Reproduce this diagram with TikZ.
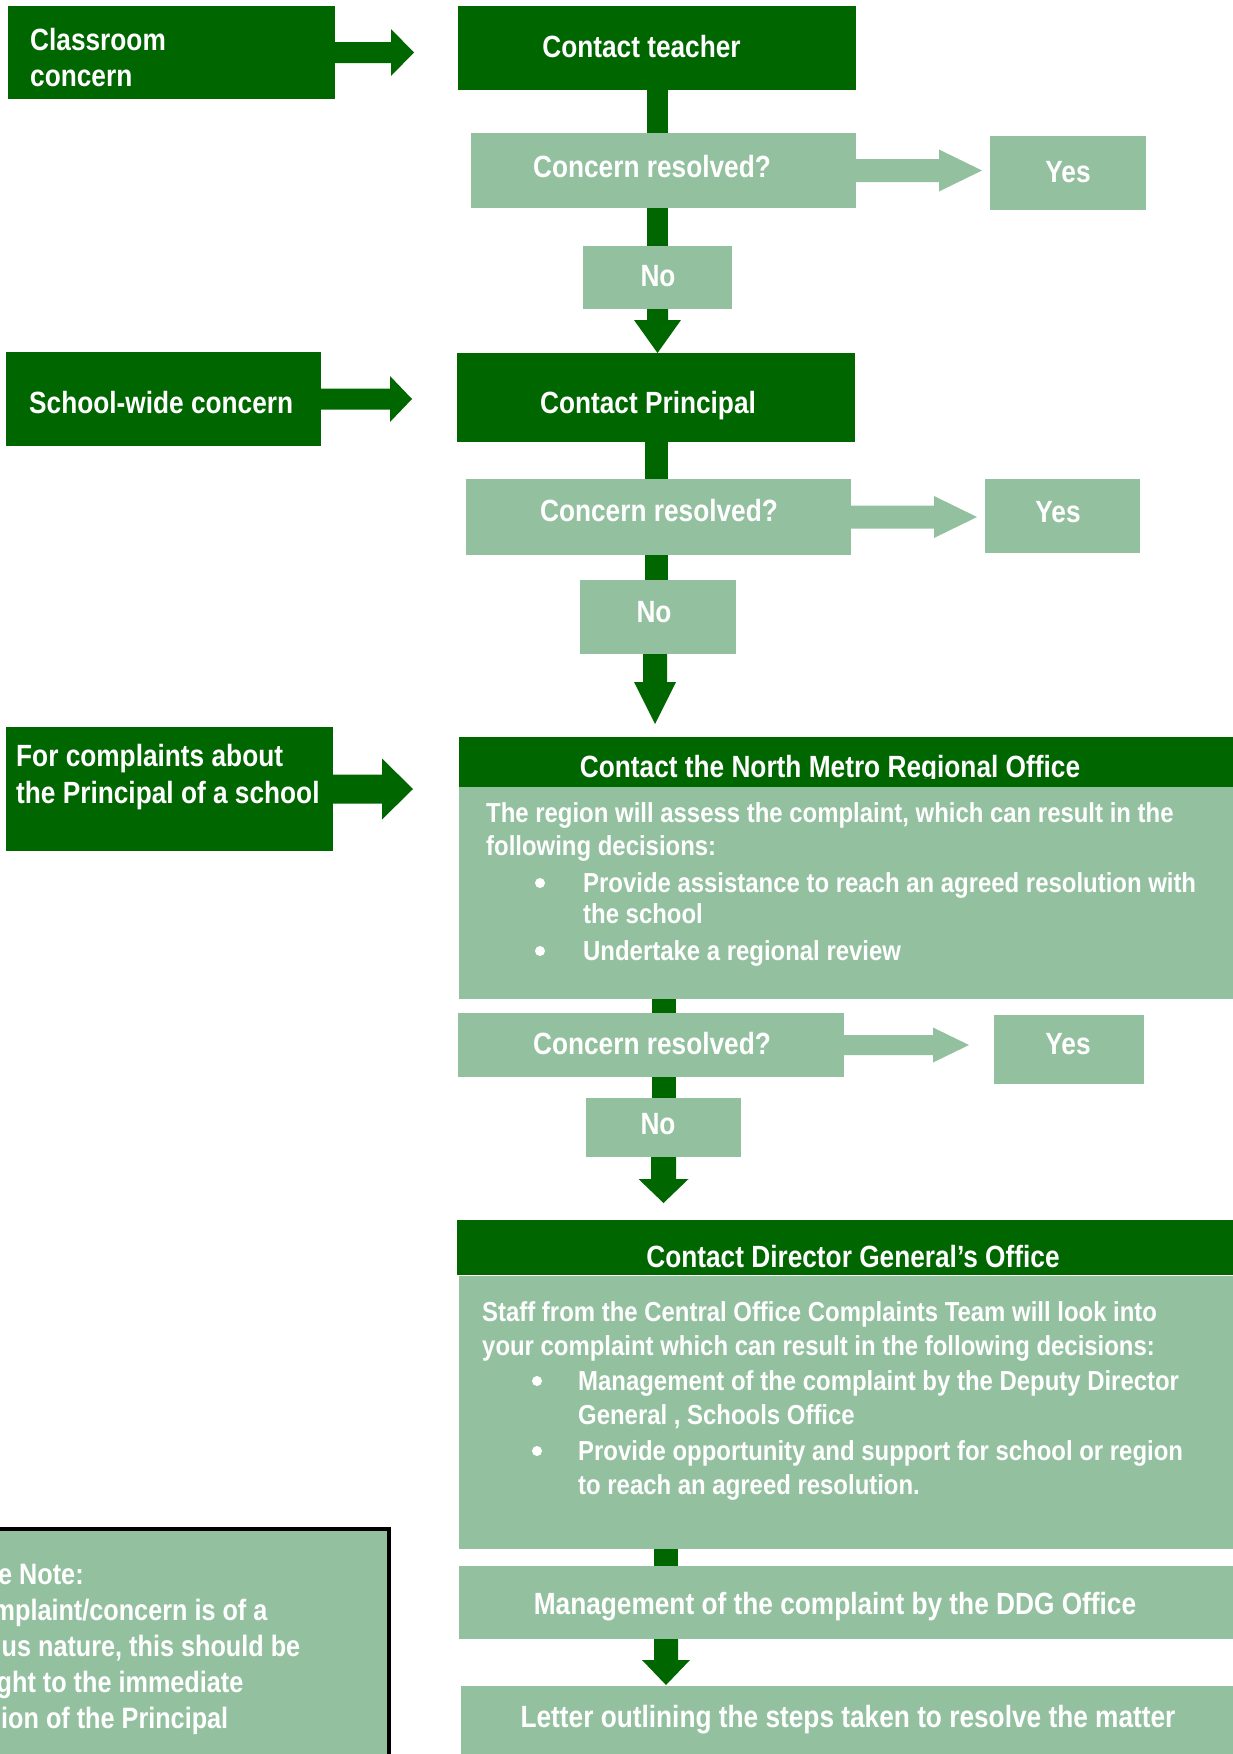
\documentclass[tikz,border=0pt]{standalone}
\usepackage{fontspec}
\setmainfont{Liberation Sans}
\newfontfamily\ttlfont[FakeStretch=0.855]{Liberation Sans}
\newfontfamily\bdyfont[FakeStretch=0.87]{Liberation Sans}
\usetikzlibrary{fit,calc}
\definecolor{dkg}{HTML}{006600}
\definecolor{ltg}{HTML}{93C1A0}
% block arrow to the right: #1 style, #2 start, #3 shaft length, #4 shaft half width, #5 head length, #6 head half width
\newcommand{\blkR}[6]{\fill[#1] #2 ++(0,-#4) -- ++(#3,0) -- ++(0,{#4-#6}) -- ++(#5,#6) -- ++(-#5,#6) -- ++(0,{#4-#6}) -- ++(-#3,0) -- cycle;}
% block arrow downwards
\newcommand{\blkD}[6]{\fill[#1] #2 ++(-#4,0) -- ++(0,#3) -- ++({#4-#6},0) -- ++(#6,#5) -- ++(#6,-#5) -- ++({#4-#6},0) -- ++(0,-#3) -- cycle;}
\tikzset{
  dkbox/.style={fill=dkg, draw=none, inner sep=0pt, outer sep=0pt},
  ltbox/.style={fill=ltg, draw=none, inner sep=0pt, outer sep=0pt},
  notebox/.style={fill=ltg, draw=black, line width=4pt, inner sep=0pt, outer sep=0pt},
  ttl/.style={text=white, inner sep=0pt, anchor=base, font=\ttlfont\bfseries\fontsize{30.7}{36}\selectfont},
  ttlL/.style={ttl, anchor=base west},
  bdy/.style={text=white, inner sep=0pt, anchor=base west, font=\bdyfont\bfseries\fontsize{27.5}{30}\selectfont},
  nte/.style={text=white, inner sep=0pt, anchor=base west, font=\ttlfont\bfseries\fontsize{29.5}{34}\selectfont},
  bul/.style={circle, fill=white, draw=none, minimum size=10pt, inner sep=0pt},
  bar/.style={draw=dkg, line cap=butt},
  dkarrow/.style={fill=dkg},
  ltarrow/.style={fill=ltg}
}
\begin{document}
\begin{tikzpicture}[x=1pt, y=-1pt]
\useasboundingbox (0,0) rectangle (1233,1754);
\clip (0,0) rectangle (1233,1754);
\fill[white] (0,0) rectangle (1233,1754);

% ---------- level 1 ----------
\node[dkbox, fit={(8,6) (335,99)}] (cls) {};
\node[ttlL] (clst1) at (30,50) {Classroom};
\node[ttlL] (clst2) at (30,86) {concern};
\node[dkbox, fit={(458,6) (856,90)}] (teacher) {};
\node[ttl] (teachert) at (641.5,57) {Contact teacher};
\node[ltbox, fit={(471,133) (856,208)}] (cr1) {};
\node[ttl] (cr1t) at (652,177) {Concern resolved?};
\node[ltbox, fit={(990,136) (1146,210)}] (yes1) {};
\node[ttl] (yes1t) at (1068,182) {Yes};
\node[ltbox, fit={(583,246) (732,309)}] (no1) {};
\node[ttl] (no1t) at (658,286) {No};

\blkR{dkarrow}{(cls.east)}{56}{10.5}{23}{23.5}
\draw[bar, line width=21pt] (teacher.south -| no1) -- (cr1.north -| no1);
\draw[bar, line width=21pt] (cr1.south -| no1) -- (no1.north);
\blkR{ltarrow}{(cr1.east)}{83}{11.5}{43}{21}
\blkD{dkarrow}{(no1.south)}{11}{10.5}{33}{23.5}

% ---------- level 2 ----------
\node[dkbox, fit={(6,352) (321,446)}] (school) {};
\node[ttlL] (schoolt) at (29,413) {School-wide concern};
\node[dkbox, fit={(457,353) (855,442)}] (principal) {};
\node[ttl] (principalt) at (648,413) {Contact Principal};
\node[ltbox, fit={(466,479) (851,555)}] (cr2) {};
\node[ttl] (cr2t) at (659,521) {Concern resolved?};
\node[ltbox, fit={(985,479) (1140,553)}] (yes2) {};
\node[ttl] (yes2t) at (1058,522) {Yes};
\node[ltbox, fit={(580,580) (736,654)}] (no2) {};
\node[ttl] (no2t) at (654,622) {No};

\blkR{dkarrow}{(school.east)}{69}{10.5}{22}{23}
\draw[bar, line width=23pt] (principal.south) -- (cr2.north -| principal.south);
\draw[bar, line width=23pt] (cr2.south -| principal.south) -- (no2.north -| principal.south);
\blkR{ltarrow}{(cr2.east)}{83}{11.5}{43}{21}
\blkD{dkarrow}{($(no2.south)+(-3,0)$)}{28}{12}{42}{21}

% ---------- level 3 ----------
\node[dkbox, fit={(6,727) (333,851)}] (pr) {};
\node[ttlL] (prt1) at (16,766) {For complaints about};
\node[ttlL] (prt2) at (16,803) {the Principal of a school};
\blkR{dkarrow}{(pr.east)}{49}{14.5}{31}{30.5}

\node[dkbox, fit={(459,737) (1240,787)}] (nmroh) {};
\begin{scope}
\clip (459,737) rectangle (1240,778.5);
\node[ttl] (nmroht) at (830,777) {Contact the North Metro Regional Office};
\end{scope}
\node[ltbox, fit={(459,787) (1240,999)}] (nmro) {};
\node[bdy] (nm1) at (486,822) {The region will assess the complaint, which can result in the};
\node[bdy] (nm2) at (486,855) {following decisions:};
\node[bul] (nmb1) at (540,883) {};
\node[bdy] (nm3) at (583,892) {Provide assistance to reach an agreed resolution with};
\node[bdy] (nm4) at (583,923) {the school};
\node[bul] (nmb2) at (540,951) {};
\node[bdy] (nm5) at (583,960) {Undertake a regional review};

\node[ltbox, fit={(458,1013) (844,1077)}] (cr3) {};
\node[ttl] (cr3t) at (652,1054) {Concern resolved?};
\node[ltbox, fit={(994,1015) (1144,1084)}] (yes3) {};
\node[ttl] (yes3t) at (1068,1054) {Yes};
\node[ltbox, fit={(586,1098) (741,1157)}] (no3) {};
\node[ttl] (no3t) at (658,1134) {No};

\draw[bar, line width=24pt] (nmro.south -| no3) -- (cr3.north -| no3);
\draw[bar, line width=24pt] (cr3.south -| no3) -- (no3.north);
\blkR{ltarrow}{(cr3.east)}{89}{10}{36}{17.5}
\blkD{dkarrow}{(no3.south)}{22}{12.5}{24}{25}

% ---------- level 4 ----------
\node[dkbox, fit={(457,1220) (1240,1275)}] (dgh) {};
\node[ttl] (dght) at (853,1267) {Contact Director General’s Office};
\node[ltbox, fit={(459,1276) (1240,1549)}] (dg) {};
\node[bdy] (dg1) at (482,1321) {Staff from the Central Office Complaints Team will look into};
\node[bdy] (dg2) at (482,1355) {your complaint which can result in the following decisions:};
\node[bul] (dgb1) at (537,1381) {};
\node[bdy] (dg3) at (578,1390) {Management of the complaint by the Deputy Director};
\node[bdy] (dg4) at (578,1424) {General , Schools Office};
\node[bul] (dgb2) at (537,1451) {};
\node[bdy] (dg5) at (578,1460) {Provide opportunity and support for school or region};
\node[bdy] (dg6) at (578,1494) {to reach an agreed resolution.};

\node[ltbox, fit={(459,1566) (1240,1639)}] (ddg) {};
\node[ttl] (ddgt) at (835,1614) {Management of the complaint by the DDG Office};
\node[ltbox, fit={(461,1686) (1240,1770)}] (letter) {};
\node[ttl] (lettert) at (848,1727) {Letter outlining the steps taken to resolve the matter};

\draw[bar, line width=24pt] ($(dg.south -| no3)+(2.5,0)$) -- ($(ddg.north -| no3)+(2.5,0)$);
\blkD{dkarrow}{($(ddg.south -| no3)+(2.5,0)$)}{21}{12}{25}{24}

% ---------- note ----------
\node[notebox, fit={(-10,1529) (389,1770)}] (note) {};
\node[nte] (n1) at (-2,1584) {e Note:};
\node[nte] (n2) at (-7.5,1620.5) {mplaint/concern is of a};
\node[nte] (n3) at (1.5,1656.5) {us nature, this should be};
\node[nte] (n4) at (-3.5,1692.5) {ght to the immediate};
\node[nte] (n5) at (1,1728.5) {ion of the Principal};
\end{tikzpicture}
\end{document}
